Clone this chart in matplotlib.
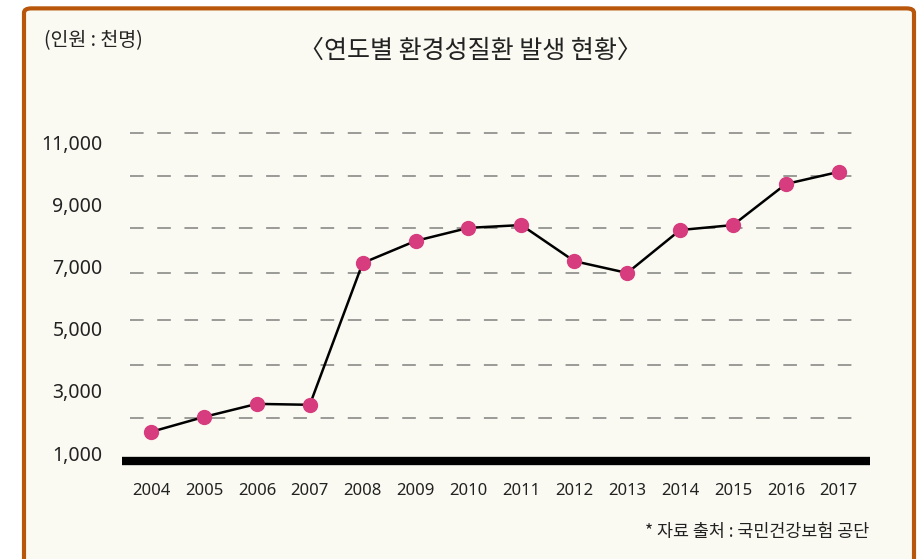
import matplotlib.pyplot as plt
from matplotlib.patches import FancyBboxPatch

plt.rcParams['font.family'] = ['Noto Sans CJK KR', 'DejaVu Sans']

years = [2004, 2005, 2006, 2007, 2008, 2009, 2010, 2011, 2012, 2013, 2014, 2015, 2016, 2017]
patients = [1680, 2160, 2580, 2550, 7110, 7820, 8240, 8330, 7170, 6790, 8170, 8330, 9650, 10040]
ytick_values = [1000, 3000, 5000, 7000, 9000, 11000]
ytick_labels = ['1,000', '3,000', '5,000', '7,000', '9,000', '11,000']
grid_levels = [2130, 3830, 5280, 6790, 8240, 9910, 11290]

fig = plt.figure(figsize=(9.21, 5.59), dpi=100)
fig.patch.set_facecolor('white')
border = FancyBboxPatch((24 / 921, -0.05), 890 / 921, 1.035, boxstyle='round,pad=0,rounding_size=0.008',
                        transform=fig.transFigure, facecolor='#fafaf2', edgecolor='#b8570c', linewidth=3,
                        zorder=-10)
fig.patches.append(border)

ax = fig.add_axes([122 / 921, (559 - 461) / 559, 748 / 921, 351 / 559])
ax.set_facecolor('none')
ax.set_xlim(2003.45, 2017.59)
ax.set_ylim(743, 12030)

for g in grid_levels:
    ax.plot([2003.6, 2017.4], [g, g], color='#9a9a96', lw=1.4, dashes=(7, 7), zorder=1)

ax.plot(years, patients, color='black', lw=1.8, zorder=2)
ax.plot(years, patients, 'o', color='#d63c7e', markersize=10, zorder=3)

for s in ['top', 'right', 'left']:
    ax.spines[s].set_visible(False)
ax.spines['bottom'].set_linewidth(6)
ax.spines['bottom'].set_color('black')
ax.spines['bottom'].set_capstyle('butt')

ax.set_xticks(years)
ax.set_xticklabels([str(y) for y in years], fontsize=12, color='#222222', family='Noto Sans')
ax.set_yticks(ytick_values)
ax.set_yticklabels(ytick_labels, fontsize=14, color='#222222', family='Noto Sans')
ax.tick_params(length=0)
ax.tick_params(axis='x', pad=16)
ax.tick_params(axis='y', pad=14)

fig.text(470 / 921, 1 - 51 / 559, '〈연도별 환경성질환 발생 현황〉', ha='center', va='center', fontsize=18,
         fontweight='medium', color='#222222')
fig.text(44 / 921, 1 - 41 / 559, '(인원 : 천명)', ha='left', va='center', fontsize=14,
         fontweight='medium', color='#222222')
fig.text(869 / 921, 1 - 532 / 559, '* 자료 출처 : 국민건강보험 공단', ha='right', va='center', fontsize=12.5,
         color='#222222')

fig.savefig('out.png', dpi=100)
